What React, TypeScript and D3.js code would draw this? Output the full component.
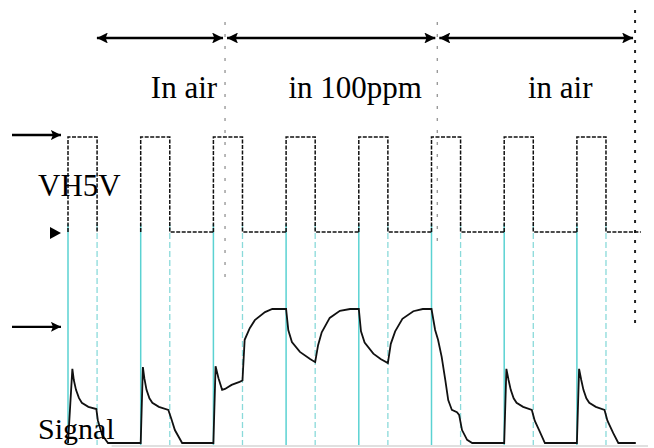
import React, { useEffect, useRef } from "react";
import * as d3 from "d3";

// time in heater periods (1 period ~ 72.7px)
const riseTimes = [0, 1, 2, 3, 4, 5, 6, 7];
const fallTimes = [0.4, 1.4, 2.4, 3.4, 4.4, 5.4, 6.4, 7.4];
const traceEnd = 7.88;

// gas phases: boundaries + labels
const phaseBounds = [0.37, 2.16, 5.08, 7.8];
const phaseLabels = ["In air", "in 100ppm", "in air"];

// heater channel levels (V)
const vhHigh = 5;
const vhLow = 0;

// sensor signal trace [t, value]
const signal: [number, number][] = [
  [0, 0], [0.06, 1.66], [0.08, 1.41], [0.11, 1.19], [0.15, 1.01], [0.19, 0.9],
  [0.28, 0.81], [0.39, 0.76], [0.41, 0.51], [0.47, 0.18], [0.55, 0],
  [1.0, 0], [1.03, 1.7], [1.05, 1.45], [1.08, 1.19], [1.12, 1.0], [1.16, 0.9],
  [1.25, 0.81], [1.38, 0.74], [1.42, 0.55], [1.47, 0.29], [1.57, 0],
  [2.0, 0], [2.03, 1.72], [2.07, 1.45], [2.12, 1.19], [2.16, 1.21], [2.25, 1.3],
  [2.36, 1.37], [2.4, 1.4], [2.43, 2.31], [2.5, 2.57], [2.57, 2.75], [2.71, 2.93],
  [2.81, 3.0], [3.0, 3.0], [3.03, 2.53], [3.08, 2.26], [3.19, 2.04], [3.33, 1.88],
  [3.4, 1.81], [3.44, 2.19], [3.49, 2.48], [3.6, 2.8], [3.74, 2.96], [3.88, 3.0],
  [4.0, 3.0], [4.03, 2.5], [4.08, 2.25], [4.2, 2.0], [4.3, 1.88], [4.4, 1.79],
  [4.44, 2.22], [4.5, 2.5], [4.6, 2.78], [4.75, 2.95], [4.88, 3.0], [5.0, 3.0],
  [5.05, 2.53], [5.09, 2.31], [5.14, 1.93], [5.19, 1.41], [5.23, 0.96], [5.28, 0.74],
  [5.35, 0.69], [5.38, 0.63], [5.42, 0.29], [5.49, 0.07], [5.56, 0],
  [6.0, 0], [6.03, 1.66], [6.06, 1.41], [6.09, 1.19], [6.13, 1.0], [6.17, 0.9],
  [6.26, 0.81], [6.38, 0.74], [6.42, 0.5], [6.48, 0.29], [6.56, 0],
  [7.0, 0], [7.03, 1.66], [7.06, 1.41], [7.09, 1.19], [7.13, 1.0], [7.17, 0.9],
  [7.26, 0.81], [7.38, 0.74], [7.42, 0.5], [7.5, 0.22], [7.57, 0], [7.81, 0],
];
const signalMarker = 2.6;

export default function App() {
  const svgRef = useRef<SVGSVGElement>(null);

  useEffect(() => {
    document.body.style.margin = "0";
    if (!svgRef.current) return;
    const width = 654;
    const height = 448;
    const svg = d3.select(svgRef.current);
    svg.attr("viewBox", `0 0 ${width} ${height}`);
    svg.selectAll("*").remove();

    const x = d3.scaleLinear().domain([0, 8]).range([68, 649.6]);
    const yVH = d3.scaleLinear().domain([0, 5]).range([232, 137]);
    const ySig = d3.scaleLinear().domain([0, 3]).range([443, 309]);
    const font = "Liberation Serif, Times New Roman, Times, DejaVu Serif, serif";

    const defs = svg.append("defs");
    defs.append("marker").attr("id", "ah").attr("viewBox", "0 0 10 10")
      .attr("refX", 10).attr("refY", 5).attr("markerWidth", 4.4).attr("markerHeight", 4.2)
      .attr("orient", "auto-start-reverse")
      .append("path").attr("d", "M0,0 L10,5 L0,10 L2,5 Z").attr("fill", "#000");

    // faint bottom grid line
    svg.append("line").attr("x1", x(0.6)).attr("x2", 648)
      .attr("y1", ySig(0) + 3).attr("y2", ySig(0) + 3)
      .attr("stroke", "#d6d6d6").attr("stroke-width", 1.5);

    // cyan edge markers down through the signal channel
    const g = svg.append("g");
    g.selectAll("line.rise").data(riseTimes).enter().append("line")
      .attr("x1", (d) => x(d)).attr("x2", (d) => x(d))
      .attr("y1", yVH(vhLow) - 8).attr("y2", ySig(0) + 2)
      .attr("stroke", "#5ad2d2").attr("stroke-width", 1.5);
    g.selectAll("line.fall").data(fallTimes).enter().append("line")
      .attr("x1", (d) => x(d)).attr("x2", (d) => x(d))
      .attr("y1", yVH(vhLow) - 8).attr("y2", ySig(0) + 2)
      .attr("stroke", "#8adada").attr("stroke-width", 1.3)
      .attr("stroke-dasharray", "6,3");

    // phase boundaries
    phaseBounds.slice(1).forEach((t, i) => {
      const last = i === phaseBounds.length - 2;
      svg.append("line").attr("x1", x(t)).attr("x2", x(t))
        .attr("y1", last ? 10 : 22).attr("y2", last ? 325 : i === 0 ? 285 : 250)
        .attr("stroke", last ? "#222" : "#9a9a9a").attr("stroke-width", last ? 2 : 1.4)
        .attr("stroke-dasharray", last ? "3,7" : "3,9");
    });

    // phase arrows
    phaseLabels.forEach((lab, i) => {
      const a = x(phaseBounds[i]);
      const b = x(phaseBounds[i + 1]);
      svg.append("line").attr("x1", a + 2).attr("x2", b - 2)
        .attr("y1", 38).attr("y2", 38)
        .attr("stroke", "#000").attr("stroke-width", 2.6)
        .attr("marker-start", "url(#ah)").attr("marker-end", "url(#ah)");
      svg.append("text").attr("x", (a + b) / 2 + 24).attr("y", 98)
        .attr("text-anchor", "middle").style("font-family", font)
        .attr("font-size", 31).text(lab);
    });

    // heater square wave (dashed trace)
    const sq: [number, number][][] = [];
    riseTimes.forEach((r, i) => {
      const f = fallTimes[i];
      const seg: [number, number][] = [[r, vhLow], [r, vhHigh], [f, vhHigh], [f, vhLow]];
      const next = i + 1 < riseTimes.length ? riseTimes[i + 1] : traceEnd;
      if (i > 0) seg.push([next, vhLow]); // low segment missing after first pulse in capture
      sq.push(seg);
    });
    const lineVH = d3.line<[number, number]>().x((d) => x(d[0])).y((d) => yVH(d[1]));
    svg.selectAll("path.vh").data(sq).enter().append("path")
      .attr("d", (d) => lineVH(d)).attr("fill", "none")
      .attr("stroke", "#111").attr("stroke-width", 1.5)
      .attr("stroke-dasharray", "4,1.5");

    // signal trace
    const lineSig = d3.line<[number, number]>().x((d) => x(d[0])).y((d) => ySig(d[1]));
    svg.append("path").attr("d", lineSig(signal)).attr("fill", "none")
      .attr("stroke", "#111").attr("stroke-width", 1.8);

    // channel reference markers
    const arrowAt = (yy: number) => {
      svg.append("line").attr("x1", 12).attr("x2", 61).attr("y1", yy).attr("y2", yy)
        .attr("stroke", "#000").attr("stroke-width", 2.4).attr("marker-end", "url(#ah)");
    };
    arrowAt(yVH(vhHigh) - 2);
    arrowAt(ySig(signalMarker));
    const ty = yVH(vhLow) + 1;
    svg.append("path").attr("d", `M50,${ty - 6} L61,${ty} L50,${ty + 6} Z`).attr("fill", "#000");

    svg.append("text").attr("x", 38).attr("y", 196).style("font-family", font)
      .attr("font-size", 31).text("VH5V");
    svg.append("text").attr("x", 38).attr("y", 439).style("font-family", font)
      .attr("font-size", 30).text("Signal");
  }, []);

  return <svg ref={svgRef} width={654} height={448} style={{ display: "block", background: "#fff" }} />;
}
